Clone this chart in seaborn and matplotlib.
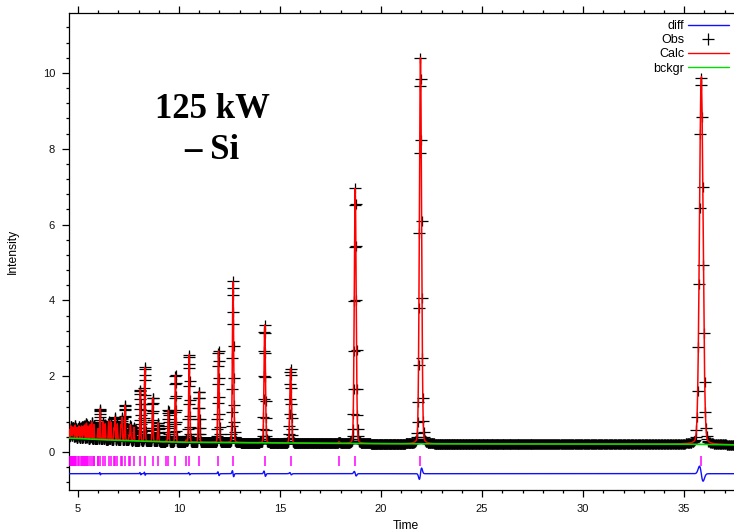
import numpy as np
import pandas as pd
import matplotlib
matplotlib.use("Agg")
import matplotlib.pyplot as plt
from matplotlib.path import Path
from matplotlib.lines import Line2D
import seaborn as sns

# ---------------- data ----------------
# reflection positions (time) and calculated peak heights above background
peak_time = [4.58, 4.63, 4.64, 4.68, 4.73, 4.75, 4.79, 4.85, 4.86, 4.91, 4.99, 5.04,
             5.12, 5.17, 5.25, 5.27, 5.32, 5.40, 5.42, 5.49, 5.60, 5.67, 5.77, 5.79,
             5.97, 6.00, 6.09, 6.24, 6.34, 6.51, 6.62, 6.77, 6.82, 6.94, 7.12, 7.17,
             7.32, 7.53, 7.59, 7.76, 8.08, 8.30, 8.69, 8.96, 9.36, 9.47, 9.82, 10.35,
             10.50, 10.98, 11.95, 12.67, 14.24, 15.52, 17.92, 18.72, 21.95, 35.85]
peak_height = [0.22, 0.18, 0.18, 0.28, 0.20, 0.22, 0.28, 0.18, 0.20, 0.28, 0.28, 0.33,
               0.28, 0.33, 0.18, 0.25, 0.36, 0.25, 0.30, 0.34, 0.38, 0.46, 0.24, 0.26,
               0.22, 0.25, 0.82, 0.47, 0.42, 0.50, 0.48, 0.30, 0.60, 0.43, 0.40, 0.60,
               0.94, 0.15, 0.42, 0.36, 1.36, 1.96, 1.16, 0.50, 0.03, 0.84, 1.79, 0.05,
               2.32, 1.36, 2.42, 4.26, 3.11, 1.96, 0.04, 6.73, 10.18, 9.74]

# background curve knots
bkg_time = [4.55, 6.0, 8.0, 10.0, 15.0, 20.0, 30.0, 35.0, 37.5]
bkg_level = [0.37, 0.33, 0.29, 0.26, 0.24, 0.22, 0.21, 0.21, 0.19]

# misfit (obs - calc) wiggles at selected peaks
misfit_time = [6.09, 8.08, 8.30, 10.50, 11.95, 12.67, 14.24, 15.52, 18.72, 21.95, 35.85]
misfit_amp = [0.03, 0.03, 0.04, 0.03, 0.05, 0.08, 0.07, 0.03, 0.06, -0.15, 0.20]

# measurement grid / instrument
time_start, time_stop, time_step = 4.55, 37.5, 0.00088  # relative step dt/t
resolution = 0.0058                                     # FWHM / t
lorentz_frac = 0.10
diff_offset = -0.57
tick_low, tick_high = -0.38, -0.10

x_ticks = [5, 10, 15, 20, 25, 30, 35]
y_ticks = [0, 2, 4, 6, 8, 10]

# ---------------- build profile ----------------
n_pts = int(np.log(time_stop / time_start) / np.log(1 + time_step)) + 1
t = time_start * (1 + time_step) ** np.arange(n_pts)
bkg = np.interp(t, bkg_time, bkg_level)

calc = bkg.copy()
for p, h in zip(peak_time, peak_height):
    fwhm = resolution * p
    sig = fwhm / 2.3548
    g = np.exp(-0.5 * ((t - p) / sig) ** 2)
    lo = 1.0 / (1.0 + ((t - p) / (fwhm / 2)) ** 2)
    calc += h * ((1 - lorentz_frac) * g + lorentz_frac * lo)

misfit = np.zeros_like(t)
for p, a in zip(misfit_time, misfit_amp):
    sig = resolution * p / 2.3548
    u = (t - p) / sig
    misfit += a * (-u) * np.exp(0.5 - 0.5 * u ** 2)

obs = calc + misfit
diff = diff_offset + misfit

df = pd.DataFrame({"time": t, "obs": obs, "calc": calc, "bkg": bkg, "diff": diff})

# ---------------- plotting ----------------
sns.set_style("ticks")
plt.rcParams["font.family"] = ["Liberation Sans", "DejaVu Sans"]
plt.rcParams["text.color"] = "black"
plt.rcParams["axes.labelcolor"] = "black"

fig = plt.figure(figsize=(7.34, 5.32), dpi=100)
ax = fig.add_axes([69 / 734, 42 / 532, 665 / 734, 477 / 532])

plus = Path([(-1, 0), (1, 0), (0, -0.85), (0, 0.85)],
            [Path.MOVETO, Path.LINETO, Path.MOVETO, Path.LINETO])

sns.scatterplot(data=df, x="time", y="obs", marker=plus, s=80, color="black",
                edgecolor="black", linewidth=0.9, ax=ax, legend=False, zorder=2)
sns.lineplot(data=df, x="time", y="calc", color="#ff0000", linewidth=1.1,
             estimator=None, sort=False, ax=ax, zorder=3)
sns.lineplot(data=df, x="time", y="bkg", color="#00dd00", linewidth=1.2,
             estimator=None, sort=False, ax=ax, zorder=4)
sns.lineplot(data=df, x="time", y="diff", color="#1010ff", linewidth=1.0,
             estimator=None, sort=False, ax=ax, zorder=3)
ax.vlines(peak_time, tick_low, tick_high, color="#ff00ff", linewidth=1.1, zorder=3)

ax.set_xlim(time_start, 37.47)
ax.set_ylim(-1.0, 11.58)
ax.set_xticks(x_ticks)
ax.set_yticks(y_ticks)
ax.set_xticks(np.arange(5, 38, 1), minor=True)
ax.set_yticks(np.arange(-0.8, 11.6, 0.4), minor=True)
ax.tick_params(which="both", direction="out", top=True, bottom=True, left=True,
               right=False, labeltop=False, color="black", width=0.9)
ax.tick_params(which="major", length=5, labelsize=8, labelcolor="#111111", pad=5)
ax.tick_params(which="minor", length=2.5)
for side in ["left", "bottom", "top"]:
    ax.spines[side].set_color("black")
    ax.spines[side].set_linewidth(0.9)
ax.spines["right"].set_visible(False)

ax.set_xlabel("Time", fontsize=8.7)
ax.set_ylabel("Intensity", fontsize=8.7)
ax.xaxis.set_label_coords(0.507, -0.063)
ax.yaxis.set_label_coords(-0.075, 0.50)

handles = [Line2D([], [], color="#1010ff", lw=1.0),
           Line2D([], [], color="black", marker="+", ls="none", markersize=8, mew=0.9),
           Line2D([], [], color="#ff0000", lw=1.0),
           Line2D([], [], color="#00dd00", lw=1.0)]
ax.legend(handles, ["diff", "Obs", "Calc", "bckgr"], loc="upper right",
          bbox_to_anchor=(0.9925, 0.985), frameon=False, markerfirst=False,
          handlelength=3.3, handletextpad=0.3, labelspacing=0.17, borderaxespad=0,
          borderpad=0, fontsize=9)

fig.text(212 / 734, 1 - 130 / 532, "125 kW\n– Si", ha="center", va="center",
         fontsize=25, fontweight="bold", family="Liberation Serif", linespacing=1.3,
         color="black")

fig.savefig("out.png", dpi=100)
